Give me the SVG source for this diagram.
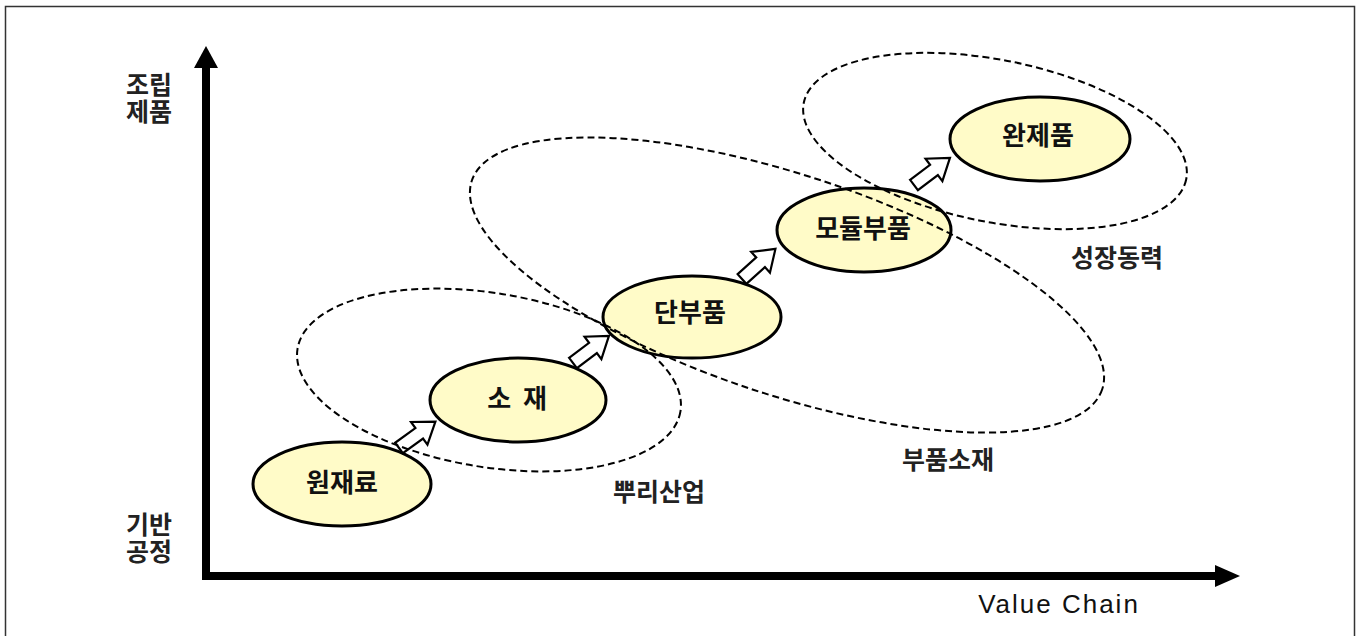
<svg xmlns="http://www.w3.org/2000/svg" width="1361" height="636" viewBox="0 0 1361 636">
<style>
.bg{fill:#ffffff}
.frame{fill:none;stroke:#333333;stroke-width:1.5}
.axis{fill:none;stroke:#000;stroke-width:8;stroke-linejoin:miter}
.axhead{fill:#000}
.node{fill:#FFFBC8;stroke:#000;stroke-width:3}
.ntext{font-family:"Noto Sans CJK KR","Noto Sans",sans-serif;font-size:26px;font-weight:700;fill:#111;text-anchor:middle}
.lbl{font-family:"Noto Sans CJK KR","Noto Sans",sans-serif;font-size:25px;font-weight:700;fill:#222;text-anchor:middle}
.group{fill:none;stroke:#000;stroke-width:2;stroke-dasharray:7 4}
.flow{fill:#fff;stroke:#000;stroke-width:2.2;stroke-linejoin:miter}
.vc{font-family:"Liberation Sans",Arial,sans-serif;font-size:26px;fill:#111;text-anchor:middle;letter-spacing:2px}
</style>
<defs>
<path id="blockArrow" d="M0,-6.5 L25,-6.5 L25,-14 L45,0 L25,14 L25,6.5 L0,6.5 Z"/>
</defs>
<rect class="bg" x="0" y="0" width="1361" height="636"/>
<rect class="frame" x="5.5" y="6.5" width="1349" height="640"/>

<g id="axes">
<path class="axis" d="M206,66 L206,576 L1216,576"/>
<polygon class="axhead" points="206,46 194,68 218,68"/>
<polygon class="axhead" points="1240,576 1215,565 1215,587"/>
<text class="lbl" x="149" y="94">조립<tspan x="149" dy="27">제품</tspan></text>
<text class="lbl" x="149" y="534">기반<tspan x="149" dy="27">공정</tspan></text>
<text class="vc" x="1059" y="613">Value Chain</text>
</g>

<g id="node-raw">
<ellipse class="node" cx="342" cy="484" rx="89" ry="42"/>
<text class="ntext" x="342" y="492">원재료</text>
</g>
<g id="node-material">
<ellipse class="node" cx="518" cy="400" rx="88" ry="42"/>
<text class="ntext" x="517" y="408" xml:space="preserve" style="word-spacing:6px">소 재</text>
</g>
<g id="node-unitpart">
<ellipse class="node" cx="692" cy="317" rx="89" ry="41"/>
<text class="ntext" x="690" y="322">단부품</text>
</g>
<g id="node-module">
<ellipse class="node" cx="864" cy="230" rx="87" ry="42"/>
<text class="ntext" x="863" y="238">모듈부품</text>
</g>
<g id="node-final">
<ellipse class="node" cx="1040" cy="139" rx="90" ry="42"/>
<text class="ntext" x="1038" y="145">완제품</text>
</g>

<g id="connectors">
<use href="#blockArrow" class="flow" transform="translate(399,448) rotate(-36)"/>
<use href="#blockArrow" class="flow" transform="translate(573,363) rotate(-37)"/>
<use href="#blockArrow" class="flow" transform="translate(742,279) rotate(-42)"/>
<use href="#blockArrow" class="flow" transform="translate(914,185) rotate(-37)"/>
</g>

<g id="group-root">
<ellipse class="group" cx="489" cy="380" rx="194" ry="87" transform="rotate(9.3 489 380)"/>
<text class="lbl" x="659" y="501">뿌리산업</text>
</g>
<g id="group-parts">
<ellipse class="group" cx="787" cy="285" rx="332" ry="110" transform="rotate(18.3 787 285)"/>
<text class="lbl" x="948" y="469">부품소재</text>
</g>
<g id="group-growth">
<ellipse class="group" cx="995" cy="141" rx="195" ry="81" transform="rotate(11.3 995 141)"/>
<text class="lbl" x="1117" y="267">성장동력</text>
</g>
</svg>
